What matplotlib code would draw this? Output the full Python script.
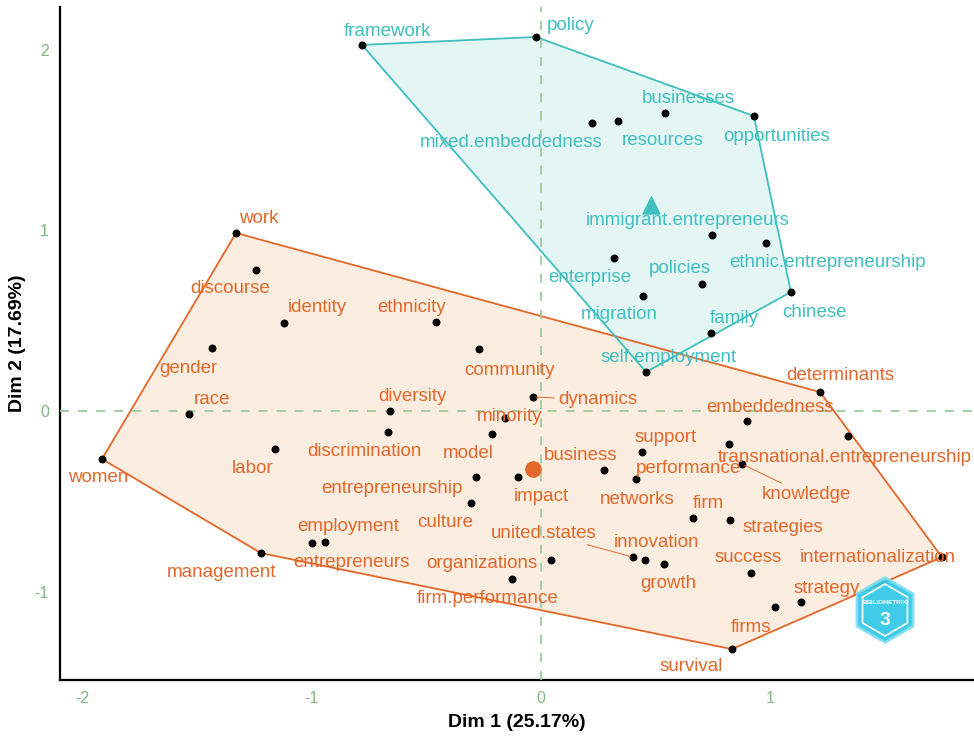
import matplotlib
matplotlib.use("Agg")
import matplotlib.pyplot as plt
from matplotlib.patches import Polygon, RegularPolygon
import numpy as np

plt.rcParams['font.family'] = ['Liberation Sans', 'DejaVu Sans']
plt.rcParams['axes.unicode_minus'] = False

# cluster 1 (orange)
words_1 = ["work", "discourse", "identity", "ethnicity", "gender", "community", "race",
           "women", "diversity", "discrimination", "labor", "minority", "dynamics", "model",
           "entrepreneurship", "culture", "impact", "business", "support", "networks",
           "performance", "knowledge", "embeddedness", "transnational.entrepreneurship",
           "determinants", "internationalization", "firm", "strategies", "success", "strategy",
           "firms", "survival", "united.states", "innovation", "growth", "organizations",
           "firm.performance", "employment", "entrepreneurs", "management"]
dim1_1 = [-1.329, -1.242, -1.120, -0.458, -1.434, -0.270, -1.534, -1.913, -0.658, -0.667,
          -1.159, -0.157, -0.035, -0.214, -0.283, -0.305, -0.100, 0.275, 0.440, 0.414,
          0.819, 0.876, 0.898, 1.338, 1.216, 1.747, 0.662, 0.824, 0.915, 1.133,
          1.020, 0.832, 0.401, 0.453, 0.536, 0.044, -0.126, -0.941, -0.998, -1.220]
dim2_1 = [0.986, 0.781, 0.488, 0.493, 0.349, 0.343, -0.017, -0.266, 0.000, -0.116,
          -0.211, -0.039, 0.078, -0.127, -0.366, -0.510, -0.366, -0.327, -0.227, -0.377,
          -0.183, -0.294, -0.055, -0.139, 0.105, -0.809, -0.593, -0.604, -0.898, -1.058,
          -1.086, -1.319, -0.809, -0.825, -0.848, -0.825, -0.931, -0.726, -0.731, -0.787]

# cluster 2 (cyan)
words_2 = ["framework", "policy", "mixed.embeddedness", "resources", "businesses",
           "opportunities", "immigrant.entrepreneurs", "ethnic.entrepreneurship", "enterprise",
           "policies", "migration", "chinese", "family", "self.employment"]
dim1_2 = [-0.780, -0.022, 0.222, 0.336, 0.540, 0.928, 0.745, 0.980, 0.318, 0.702,
          0.444, 1.089, 0.741, 0.458]
dim2_2 = [2.028, 2.072, 1.596, 1.607, 1.651, 1.634, 0.975, 0.931, 0.848, 0.704,
          0.637, 0.659, 0.432, 0.216]

# label placement (repelled positions)
lab_x_1 = [-1.229, -1.355, -0.976, -0.566, -1.538, -0.139, -1.434, -1.930, -0.558, -0.771,
           -1.259, -0.139, 0.248, -0.318, -0.649, -0.418, 0.000, 0.174, 0.545, 0.418,
           0.641, 1.155, 0.998, 1.325, 1.303, 1.468, 0.728, 1.054, 0.902, 1.246,
           0.915, 0.654, 0.013, 0.505, 0.553, -0.257, -0.231, -0.841, -0.824, -1.394]
lab_y_1 = [1.069, 0.676, 0.576, 0.576, 0.238, 0.227, 0.066, -0.371, 0.083, -0.222,
           -0.321, -0.033, 0.061, -0.238, -0.427, -0.620, -0.476, -0.244, -0.144, -0.488,
           -0.316, -0.465, 0.022, -0.255, 0.194, -0.809, -0.510, -0.643, -0.809, -0.981,
           -1.197, -1.418, -0.676, -0.726, -0.958, -0.842, -1.036, -0.637, -0.837, -0.892]
lab_x_2 = [-0.671, 0.131, -0.131, 0.532, 0.641, 1.028, 0.641, 1.251, 0.214, 0.606,
           0.340, 1.194, 0.841, 0.558]
lab_y_2 = [2.105, 2.133, 1.485, 1.501, 1.729, 1.518, 1.058, 0.820, 0.737, 0.792,
           0.532, 0.548, 0.515, 0.299]
with_segment = ["dynamics", "knowledge", "united.states"]

col_1, fill_1 = "#E4672A", "#FBE8D8"
col_2, fill_2 = "#3FBFBF", "#DAF3F1"


def hull(pts):
    pts = sorted(set(pts))

    def cross(o, a, b):
        return (a[0] - o[0]) * (b[1] - o[1]) - (a[1] - o[1]) * (b[0] - o[0])
    lower, upper = [], []
    for p in pts:
        while len(lower) >= 2 and cross(lower[-2], lower[-1], p) <= 0:
            lower.pop()
        lower.append(p)
    for p in reversed(pts):
        while len(upper) >= 2 and cross(upper[-2], upper[-1], p) <= 0:
            upper.pop()
        upper.append(p)
    return lower[:-1] + upper[:-1]


fig = plt.figure(figsize=(9.74, 7.36), dpi=100)
ax = fig.add_axes([0.0616, 0.0761, 0.9384, 0.9144])

for xs, ys, col, fill in [(dim1_1, dim2_1, col_1, fill_1), (dim1_2, dim2_2, col_2, fill_2)]:
    h = hull(list(zip(xs, ys)))
    ax.add_patch(Polygon(h, closed=True, facecolor=fill, alpha=0.75, edgecolor='none', zorder=1))
    ax.add_patch(Polygon(h, closed=True, facecolor='none', edgecolor=col, lw=1.3, zorder=2))

ax.axhline(0, color="#9CCB9C", ls=(0, (5, 5)), lw=1.3, zorder=3)
ax.axvline(0, color="#9CCB9C", ls=(0, (5, 5)), lw=1.3, zorder=3)

ax.scatter(dim1_1 + dim1_2, dim2_1 + dim2_2, s=22, color="black", zorder=5)
ax.scatter([np.mean(dim1_1)], [np.mean(dim2_1)], s=120, color=col_1, marker="o", zorder=5)
ax.scatter([np.mean(dim1_2)], [np.mean(dim2_2)], s=150, color=col_2, marker="^", zorder=5)

for words, xs, ys, lx, ly, col in [(words_1, dim1_1, dim2_1, lab_x_1, lab_y_1, col_1),
                                   (words_2, dim1_2, dim2_2, lab_x_2, lab_y_2, col_2)]:
    for w, x, y, tx, ty in zip(words, xs, ys, lx, ly):
        if w in with_segment:
            ax.annotate(w, (x, y), xytext=(tx, ty), color=col, fontsize=13.5,
                        ha="center", va="center", zorder=6,
                        arrowprops=dict(arrowstyle="-", color=col, lw=0.7, shrinkA=1, shrinkB=2))
        else:
            ax.text(tx, ty, w, color=col, fontsize=13.5, ha="center", va="center", zorder=6)

ax.set_xlim(-2.096, 1.887)
ax.set_ylim(-1.49, 2.238)
ax.set_xticks([-2, -1, 0, 1])
ax.set_yticks([-1, 0, 1, 2])
ax.tick_params(length=0, labelsize=11.5, labelcolor="#7DB97D", pad=8)
for s in ["top", "right"]:
    ax.spines[s].set_visible(False)
for s in ["left", "bottom"]:
    ax.spines[s].set_linewidth(1.6)
ax.set_xlabel("Dim 1 (25.17%)", fontsize=14, fontweight="bold", labelpad=6)
ax.set_ylabel("Dim 2 (17.69%)", fontsize=14, fontweight="bold", labelpad=6)

# bibliometrix logo
lax = fig.add_axes([(885 - 36) / 974, (736 - 610 - 36) / 736, 72 / 974, 72 / 736])
lax.set_xlim(-1, 1)
lax.set_ylim(-1, 1)
lax.axis("off")
lax.add_patch(RegularPolygon((0, 0), 6, radius=0.9, facecolor="#2BC6E6", edgecolor="#7FDDF0", lw=2, alpha=0.9))
lax.add_patch(RegularPolygon((0, 0), 6, radius=0.72, facecolor="none", edgecolor="white", lw=1.2))
lax.text(0, 0.2, "BIBLIOMETRIX", fontsize=4.5, color="white", fontweight="bold", ha="center", va="center")
lax.text(0, -0.3, "3", fontsize=14, color="white", fontweight="bold", ha="center", va="center")

fig.savefig("out.png", dpi=100)
